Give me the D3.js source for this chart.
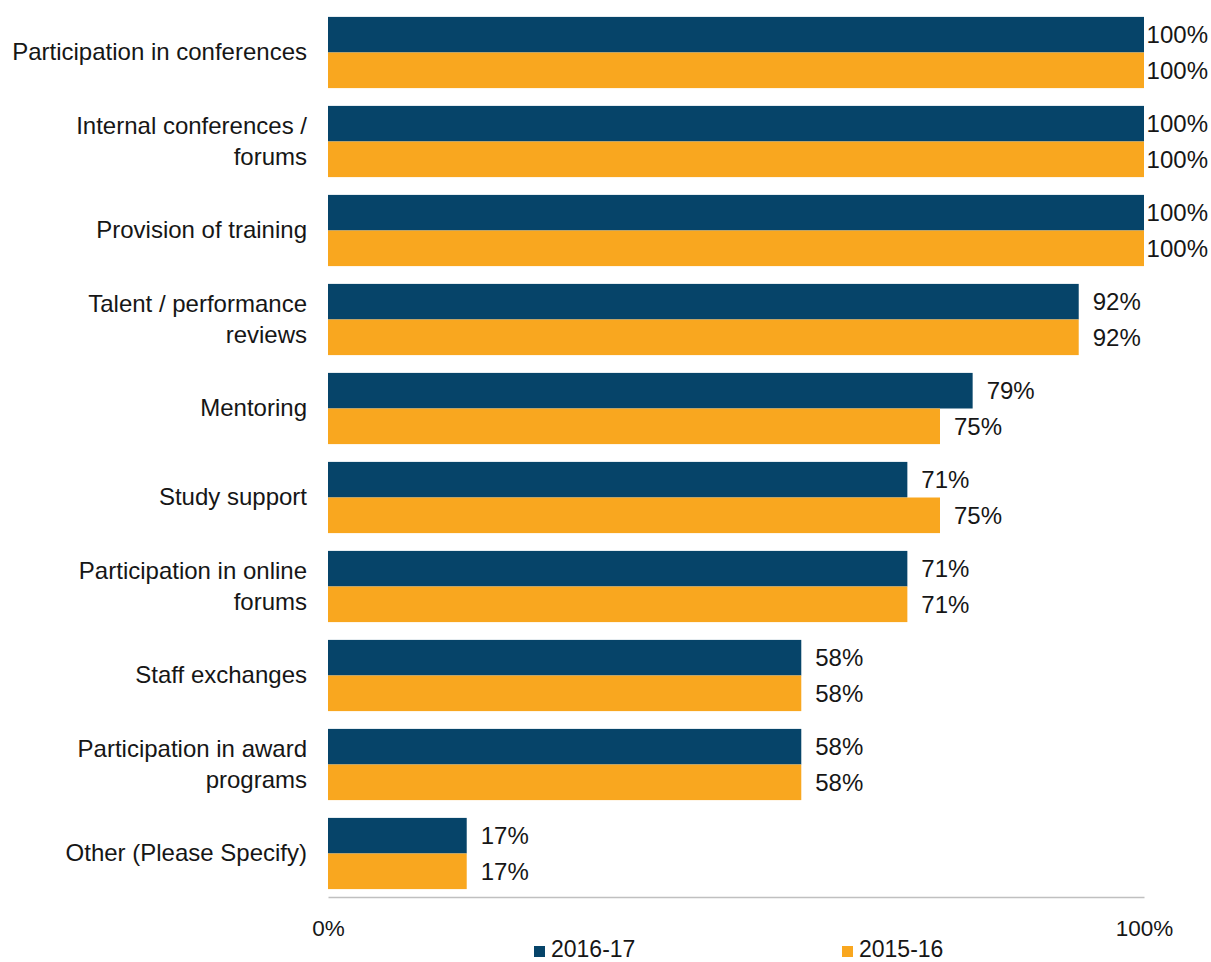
<!DOCTYPE html>
<html>
<head>
<meta charset="utf-8">
<script src="https://cdn.jsdelivr.net/npm/d3@7"></script>
<style>
  html, body { margin: 0; padding: 0; background: #fff; }
  svg { display: block; font-family: "Liberation Sans", Arial, sans-serif; }
</style>
</head>
<body>
<svg id="chart" width="1211" height="962"></svg>
<script>
// Development activities offered, by survey year
const categories = [
  "Participation in conferences",
  "Internal conferences /\nforums",
  "Provision of training",
  "Talent / performance\nreviews",
  "Mentoring",
  "Study support",
  "Participation in online\nforums",
  "Staff exchanges",
  "Participation in award\nprograms",
  "Other (Please Specify)"
];
const seriesNames = ["2016-17", "2015-16"];
const values2016 = [100, 100, 100, 92, 79, 71, 71, 58, 58, 17];
const values2015 = [100, 100, 100, 92, 75, 75, 71, 58, 58, 17];
const tickValues = [0, 100];
const colors = ["#064469", "#F9A71F"];

const W = 1211, H = 962;
const plot = { left: 328, right: 1144, top: 8, bottom: 898 };
const textColor = "#161616";

const svg = d3.select("#chart");

const x = d3.scaleLinear().domain([0, 100]).range([plot.left, plot.right]);
const y = d3.scaleBand().domain(categories).range([plot.top, plot.bottom])
  .paddingInner(0.2).paddingOuter(0.1);
const ySub = d3.scaleBand().domain(seriesNames).range([0, y.bandwidth()]);
const color = d3.scaleOrdinal().domain(seriesNames).range(colors);

const rows = categories.map((c, i) => ({
  category: c,
  values: [
    { series: seriesNames[0], value: values2016[i] },
    { series: seriesNames[1], value: values2015[i] }
  ]
}));

// bars
const groups = svg.append("g").selectAll("g").data(rows).join("g")
  .attr("transform", d => `translate(0,${y(d.category)})`);

groups.selectAll("rect").data(d => d.values).join("rect")
  .attr("x", x(0))
  .attr("y", d => ySub(d.series))
  .attr("width", d => x(d.value) - x(0))
  .attr("height", ySub.bandwidth())
  .attr("fill", d => color(d.series));

// value labels, kept inside the drawing area
groups.selectAll("text").data(d => d.values).join("text")
  .attr("y", d => ySub(d.series) + ySub.bandwidth() / 2)
  .attr("dy", "0.36em")
  .attr("font-size", 24)
  .attr("fill", textColor)
  .text(d => d.value + "%")
  .attr("x", function (d) {
    const w = this.getComputedTextLength();
    return Math.min(x(d.value) + 14, W - 3 - w);
  });

// category labels
const catLabels = svg.append("g").selectAll("text").data(categories).join("text")
  .attr("text-anchor", "end")
  .attr("font-size", 24)
  .attr("fill", textColor)
  .attr("x", plot.left - 21);

const lineH = 31.6;
catLabels.each(function (c) {
  const lines = c.split("\n");
  const cy = y(c) + y.bandwidth() / 2 + 24 * 0.33 - (lines.length - 1) * lineH / 2;
  const t = d3.select(this);
  lines.forEach((ln, k) => {
    t.append("tspan").attr("x", plot.left - 21).attr("y", cy + k * lineH).text(ln);
  });
});

// value axis
const axis = d3.axisBottom(x).tickValues(tickValues).tickSize(0).tickSizeOuter(0)
  .tickPadding(23).tickFormat(d => d + "%");
const axisG = svg.append("g").attr("transform", `translate(0,${plot.bottom - 1})`).call(axis);
axisG.select(".domain").attr("stroke", "#c0c0c0").attr("stroke-width", 1.3);
axisG.selectAll("text").attr("font-size", 22.5).attr("fill", textColor)
  .attr("font-family", "Liberation Sans, Arial, sans-serif");

// legend
const legendItems = [
  { name: seriesNames[0], x: 534 },
  { name: seriesNames[1], x: 842 }
];
const legend = svg.append("g").selectAll("g").data(legendItems).join("g")
  .attr("transform", d => `translate(${d.x},946)`);
legend.append("rect").attr("width", 11).attr("height", 11).attr("fill", d => color(d.name));
legend.append("text").attr("x", 17).attr("y", 11)
  .attr("font-size", 23).attr("fill", textColor).text(d => d.name);
</script>
</body>
</html>
